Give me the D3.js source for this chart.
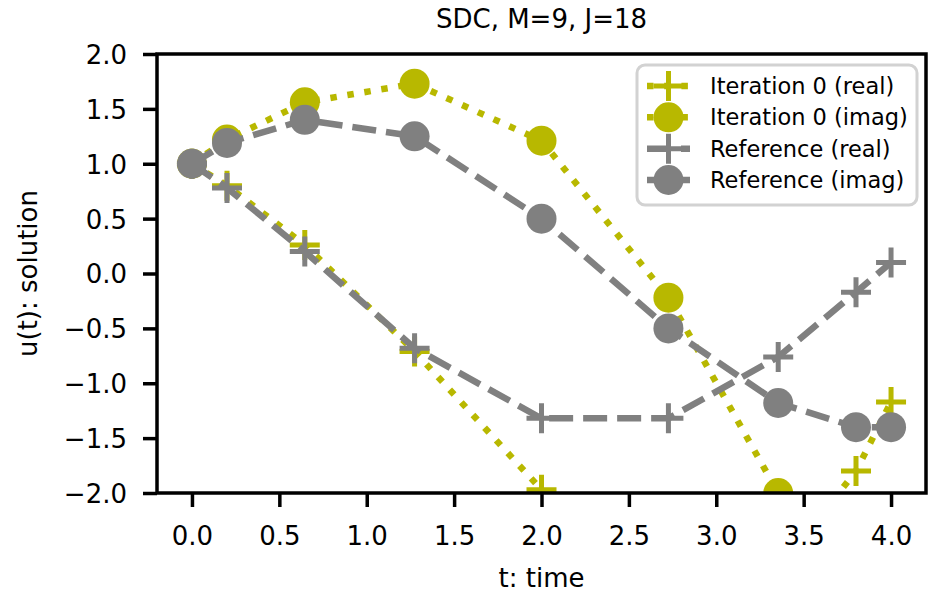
<!DOCTYPE html>
<html>
<head>
<meta charset="utf-8">
<script src="https://cdn.jsdelivr.net/npm/d3@7"></script>
<style>
    body { margin: 0; background: #fff; }
    text { font-family: "DejaVu Sans", sans-serif; fill: #000; }
</style>
</head>
<body>
<svg id="sdc-svg" width="931" height="595"></svg>
<script>
// collocation nodes and solution values
const tNodes = [0.0, 0.2005, 0.6456, 1.2738, 2.0, 2.7262, 3.3544, 3.7995, 4.0];
const iterReal = [1.0, 0.80, 0.26, -0.71, -1.97, -2.9, -2.7, -1.80, -1.17];
const iterImag = [1.0, 1.22, 1.56, 1.73, 1.21, -0.22, -2.0, -2.6, -2.4];
const refReal = [1.0, 0.78, 0.20, -0.68, -1.32, -1.32, -0.76, -0.17, 0.10];
const refImag = [1.0, 1.19, 1.40, 1.25, 0.50, -0.50, -1.18, -1.40, -1.40];

const xTicks = [0.0, 0.5, 1.0, 1.5, 2.0, 2.5, 3.0, 3.5, 4.0];
const yTicks = [-2.0, -1.5, -1.0, -0.5, 0.0, 0.5, 1.0, 1.5, 2.0];

const seriesNames = ['Iteration 0 (real)', 'Iteration 0 (imag)', 'Reference (real)', 'Reference (imag)'];
const seriesValues = [iterReal, iterImag, refReal, refImag];

const YELLOW = '#b8b800';
const GRAY = '#808080';

// plot box
const PLOT = {left: 157, right: 926, top: 54, bottom: 493};

const svg = d3.select('#sdc-svg');

const xScale = d3.scaleLinear()
    .domain([-0.2, 4.2])
    .range([PLOT.left, PLOT.right]);

const yScale = d3.scaleLinear()
    .domain([-2, 2])
    .range([PLOT.bottom, PLOT.top]);

// styles per series
const styles = [
    {color: YELLOW, dash: '6.5,10.7', marker: 'plus'},
    {color: YELLOW, dash: '6.5,10.7', marker: 'circle'},
    {color: GRAY, dash: '24,10', marker: 'plus'},
    {color: GRAY, dash: '24,10', marker: 'circle'}
];

// clip for data
svg.append('clipPath')
    .attr('id', 'plot-clip')
    .append('rect')
    .attr('x', PLOT.left)
    .attr('y', PLOT.top)
    .attr('width', PLOT.right - PLOT.left)
    .attr('height', PLOT.bottom - PLOT.top);

const chart = svg.append('g').attr('clip-path', 'url(#plot-clip)');

function drawMarker(g, kind, color, cx, cy) {
    if (kind === 'circle') {
        g.append('circle')
            .attr('cx', cx)
            .attr('cy', cy)
            .attr('r', 15)
            .attr('fill', color);
    } else {
        g.append('path')
            .attr('d', `M${cx - 15},${cy}H${cx + 15}M${cx},${cy - 15}V${cy + 15}`)
            .attr('stroke', color)
            .attr('stroke-width', 5)
            .attr('fill', 'none');
    }
}

seriesValues.forEach((vals, i) => {
    const st = styles[i];
    const data = tNodes.map((t, k) => ({t: t, v: vals[k]}));
    const g = chart.append('g');

    g.append('path')
        .datum(data)
        .attr('d', d3.line()
            .x((d) => xScale(d.t))
            .y((d) => yScale(d.v)))
        .attr('fill', 'none')
        .attr('stroke', st.color)
        .attr('stroke-width', 6.5)
        .attr('stroke-dasharray', st.dash);

    data.forEach((d) => drawMarker(g, st.marker, st.color, xScale(d.t), yScale(d.v)));
});

// x-axis //
const xAxis = svg.append('g')
    .attr('transform', `translate(0, ${PLOT.bottom})`)
    .call(d3.axisBottom(xScale).tickValues(xTicks).tickFormat(d3.format('.1f')).tickSize(14).tickSizeOuter(0));

xAxis.select('.domain').remove();
xAxis.selectAll('.tick line').attr('stroke', '#000').attr('stroke-width', 3.5);
xAxis.selectAll('.tick text')
    .attr('y', 52)
    .attr('dy', 0)
    .style('font-size', '26px');

// y-axis //
const yAxis = svg.append('g')
    .attr('transform', `translate(${PLOT.left}, 0)`)
    .call(d3.axisLeft(yScale).tickValues(yTicks).tickFormat(d3.format('.1f')).tickSize(14).tickSizeOuter(0));

yAxis.select('.domain').remove();
yAxis.selectAll('.tick line').attr('stroke', '#000').attr('stroke-width', 3.5);
yAxis.selectAll('.tick text')
    .attr('x', -30)
    .attr('dy', '0.36em')
    .style('font-size', '26px');

// spines
svg.append('rect')
    .attr('x', PLOT.left)
    .attr('y', PLOT.top)
    .attr('width', PLOT.right - PLOT.left)
    .attr('height', PLOT.bottom - PLOT.top)
    .attr('fill', 'none')
    .attr('stroke', '#000')
    .attr('stroke-width', 3.5);

// labels and title
svg.append('text')
    .attr('x', (PLOT.left + PLOT.right) / 2)
    .attr('y', 28)
    .attr('text-anchor', 'middle')
    .style('font-size', '26px')
    .text('SDC, M=9, J=18');

svg.append('text')
    .attr('x', (PLOT.left + PLOT.right) / 2)
    .attr('y', 587)
    .attr('text-anchor', 'middle')
    .style('font-size', '26px')
    .text('t: time');

svg.append('text')
    .attr('transform', `translate(37, ${(PLOT.top + PLOT.bottom) / 2}) rotate(-90)`)
    .attr('text-anchor', 'middle')
    .style('font-size', '26px')
    .text('u(t): solution');

// legend //
const legend = svg.append('g');

legend.append('rect')
    .attr('x', 637)
    .attr('y', 65)
    .attr('width', 280)
    .attr('height', 140)
    .attr('rx', 8)
    .attr('fill', 'rgba(255,255,255,0.8)')
    .attr('stroke', '#d2d2d2')
    .attr('stroke-width', 3);

const rowY = d3.scaleLinear().domain([0, 3]).range([86, 180]);

seriesNames.forEach((name, i) => {
    const st = styles[i];
    const y = rowY(i);
    const row = legend.append('g');

    row.append('line')
        .attr('x1', 647)
        .attr('x2', 690)
        .attr('y1', y)
        .attr('y2', y)
        .attr('stroke', st.color)
        .attr('stroke-width', 6.5)
        .attr('stroke-dasharray', st.dash);

    drawMarker(row, st.marker, st.color, 668.5, y);

    row.append('text')
        .attr('x', 710)
        .attr('y', y)
        .attr('dy', '0.36em')
        .style('font-size', '22.5px')
        .text(name);
});
</script>
</body>
</html>
